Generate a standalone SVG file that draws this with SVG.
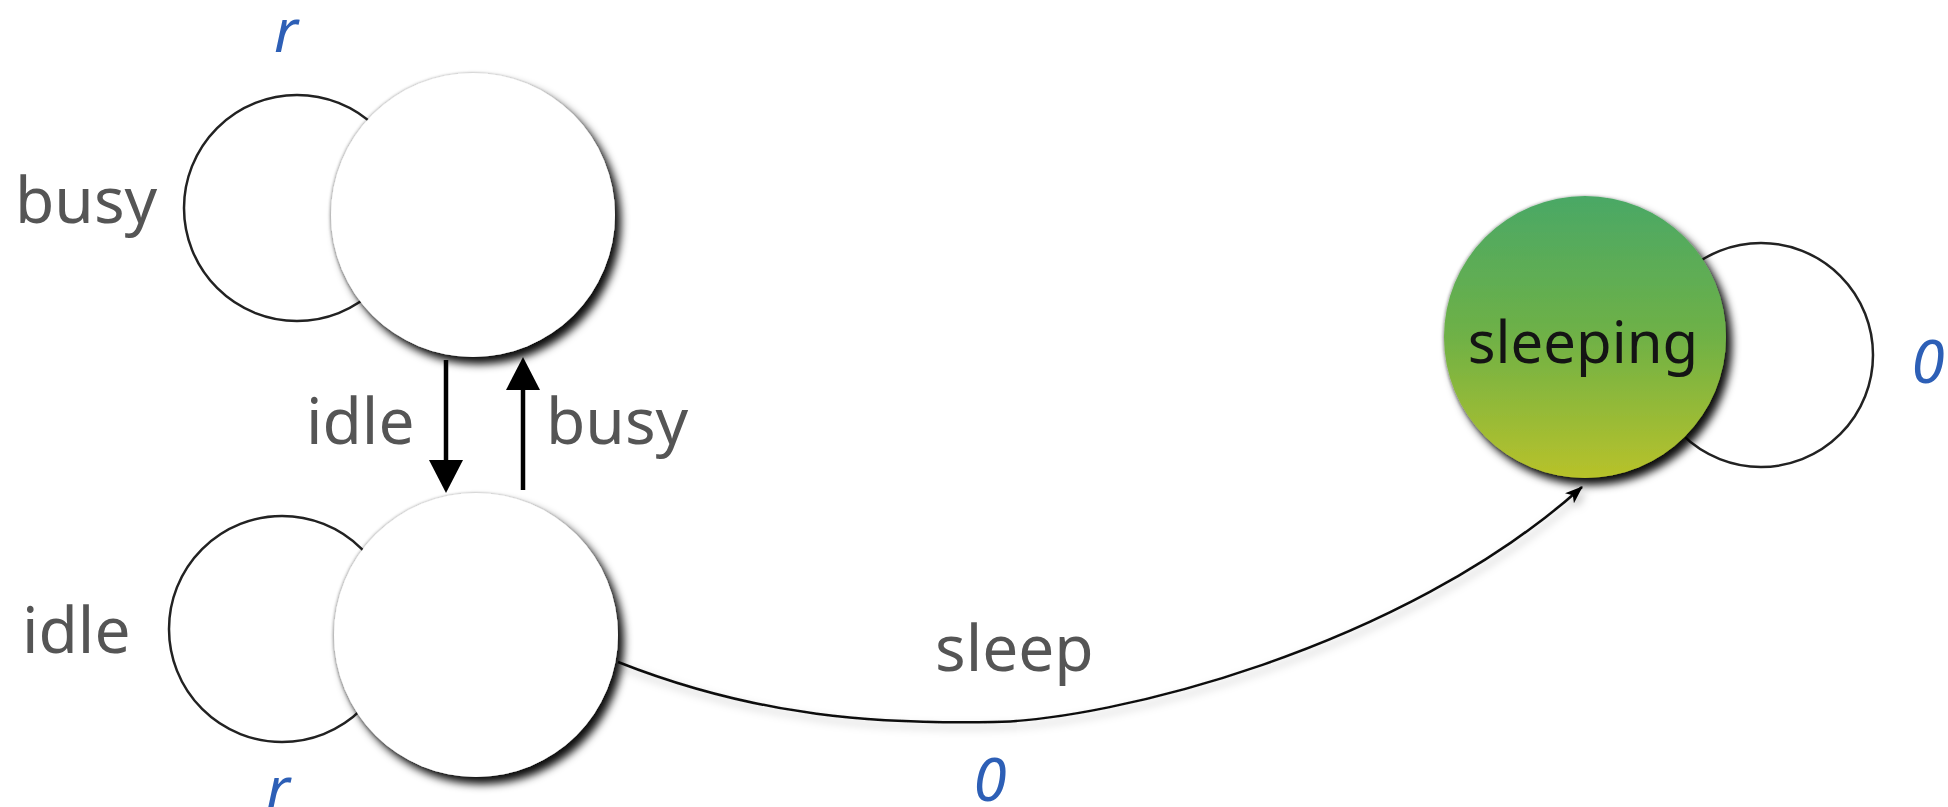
<svg xmlns="http://www.w3.org/2000/svg" width="1948" height="807" viewBox="0 0 1948 807">
  <style>
    .lbl { font-family: "Noto Sans", "DejaVu Sans", sans-serif; font-size: 64px; fill: #555555; }
    .rate { font-family: "Noto Sans", "DejaVu Sans", sans-serif; font-size: 60px; font-style: italic; fill: #2d5fb6; }
    .name { font-family: "Noto Sans", "DejaVu Sans", sans-serif; font-size: 58px; fill: #141414; }
    .loop { fill: #ffffff; stroke: #222222; stroke-width: 2.5; }
    .state { fill: #ffffff; filter: url(#shade); }
    .edge { fill: none; stroke: #000000; stroke-width: 4.5; }
    .curve { fill: none; stroke: #111111; stroke-width: 2.5; filter: url(#soft); }
  </style>
  <defs>
    <filter id="shade" x="-20%" y="-20%" width="150%" height="150%">
      <feDropShadow dx="-1" dy="0" stdDeviation="1.5" flood-color="#000000" flood-opacity="0.35"/>
      <feDropShadow dx="6" dy="7" stdDeviation="4.5" flood-color="#000000" flood-opacity="0.95"/>
    </filter>
    <filter id="soft" x="-5%" y="-20%" width="110%" height="150%">
      <feDropShadow dx="3" dy="5" stdDeviation="4" flood-color="#000000" flood-opacity="0.25"/>
    </filter>
    <linearGradient id="green" x1="0" y1="0" x2="0" y2="1">
      <stop offset="0" stop-color="#4aa866"/>
      <stop offset="0.5" stop-color="#6fb146"/>
      <stop offset="1" stop-color="#b8c22a"/>
    </linearGradient>
    <marker id="tipSmall" viewBox="0 0 16 12" refX="15" refY="6" markerWidth="18" markerHeight="14" markerUnits="userSpaceOnUse" orient="auto">
      <path d="M0,0 L16,6 L0,12 L4,6 Z" fill="#000000"/>
    </marker>
  </defs>

  <rect width="1948" height="807" fill="#ffffff"/>

  <!-- self loops, drawn behind the states -->
  <g id="loops">
    <circle class="loop" cx="297" cy="208" r="113"/>
    <circle class="loop" cx="282" cy="629" r="113"/>
    <circle class="loop" cx="1761" cy="355" r="112"/>
  </g>

  <g id="connectors">
    <!-- idle: top to bottom -->
    <line class="edge" x1="446" y1="360" x2="446" y2="466"/>
    <polygon points="429,460 463,460 446,493" fill="#000000"/>
    <!-- busy: bottom to top -->
    <line class="edge" x1="523" y1="490" x2="523" y2="384"/>
    <polygon points="506,390 540,390 523,357" fill="#000000"/>
    <!-- sleep: bottom state to sleeping -->
    <path class="curve" d="M618,662 C760,718 880,724 994,722 S1400,650 1582,487" marker-end="url(#tipSmall)"/>
  </g>

  <g id="state-busy">
    <circle class="state" cx="473" cy="215" r="142"/>
  </g>
  <g id="state-idle">
    <circle class="state" cx="476" cy="635" r="142"/>
  </g>
  <g id="state-sleeping">
    <circle cx="1585" cy="337" r="141" fill="url(#green)" filter="url(#shade)"/>
    <text class="name" x="1583" y="363" text-anchor="middle">sleeping</text>
  </g>

  <g id="labels">
    <text class="rate" x="286" y="52" text-anchor="middle">r</text>
    <text class="lbl" x="15" y="223">busy</text>
    <text class="lbl" x="306" y="444">idle</text>
    <text class="lbl" x="546" y="444">busy</text>
    <text class="lbl" x="22" y="653">idle</text>
    <text class="rate" x="278" y="810" text-anchor="middle">r</text>
    <text class="lbl" x="935" y="671">sleep</text>
    <text class="rate" x="990" y="801" text-anchor="middle">0</text>
    <text class="rate" x="1928" y="383" text-anchor="middle">0</text>
  </g>
</svg>
